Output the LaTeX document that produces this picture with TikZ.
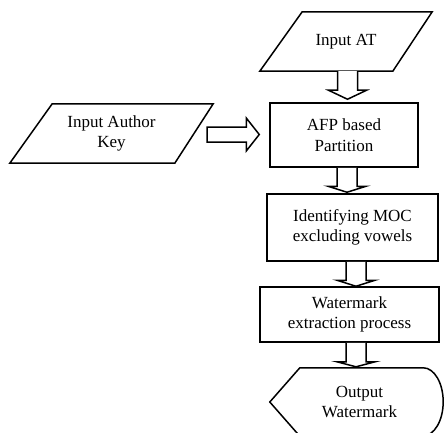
\documentclass[tikz,border=0pt]{standalone}
\usepackage{fontspec}
\setmainfont{Liberation Serif}
\usetikzlibrary{calc}
\begin{document}
\begin{tikzpicture}[x=1pt,y=1pt,
  shp/.style={line width=1.5pt,line join=miter},
  blk/.style={line width=1.5pt,line join=miter,fill=white},
  holder/.style={draw=none,inner sep=0pt,align=center,font=\fontsize{17}{20.5}\selectfont},
  boxnode/.style={draw,line width=1.5pt,inner sep=0pt,align=center,font=\fontsize{17}{20.5}\selectfont}]
\useasboundingbox (0,0) rectangle (444,432);
% vertical block arrow: #1 from node, #2 to node, #3 x, #4 gap, #5 head length
\newcommand\vblk[5]{%
  \draw[blk] let \p1=(#1.south), \p2=(#2.north) in
    (#3-10,\y1) -- (#3-10,\y2+#4+#5) -- (#3-19,\y2+#4+#5) -- (#3,\y2+#4)
    -- (#3+19,\y2+#4+#5) -- (#3+10,\y2+#4+#5) -- (#3+10,\y1);}
% input parallelograms
\node[holder,minimum width=172,minimum height=59] (at) at (346,390.5) {Input AT};
\draw[shp] (at.south west) -- ($(at.south west)+(133,0)$) -- (at.north east)
  -- ($(at.north east)+(-130,0)$) -- cycle;
\node[holder,minimum width=203,minimum height=59] (key) at (111.5,298.5) {Input Author\\Key};
\draw[shp] (key.south west) -- ($(key.south west)+(165,0)$) -- (key.north east)
  -- ($(key.north east)+(-161,0)$) -- cycle;
% process boxes
\node[boxnode,minimum width=148,minimum height=64] (afp) at (344,297) {AFP based\\Partition};
\node[boxnode,minimum width=171,minimum height=67] (moc) at (352.5,204.5) {Identifying MOC\\excluding vowels};
\node[boxnode,minimum width=179,minimum height=55] (wm) at (349.5,117.5) {Watermark\\extraction process};
% output display shape
\node[holder,minimum width=173,minimum height=68] (out) at (356.5,30) {\hspace*{6pt}Output\\\hspace*{6pt}Watermark};
\draw[shp] ($(out.north west)+(30,0)$) -- ($(out.north east)+(-20,0)$)
  arc[start angle=90,end angle=-90,x radius=20,y radius=34]
  -- ($(out.south west)+(30,0)$) -- (out.west) -- cycle;
% block arrows
\vblk{at}{afp}{347.5}{3}{9}
\vblk{afp}{moc}{347}{1}{6}
\vblk{moc}{wm}{356}{0}{6}
\vblk{wm}{out}{356}{1}{5}
\draw[blk] let \p1=(key.east), \p2=(afp.west) in
  (\x1-6,\y1-8.5) -- (\x2-23,\y1-8.5) -- (\x2-23,\y1-17.5) -- (\x2-10,\y1-1)
  -- (\x2-23,\y1+15.5) -- (\x2-23,\y1+6.5) -- (\x1-6,\y1+6.5) -- cycle;
\end{tikzpicture}
\end{document}
